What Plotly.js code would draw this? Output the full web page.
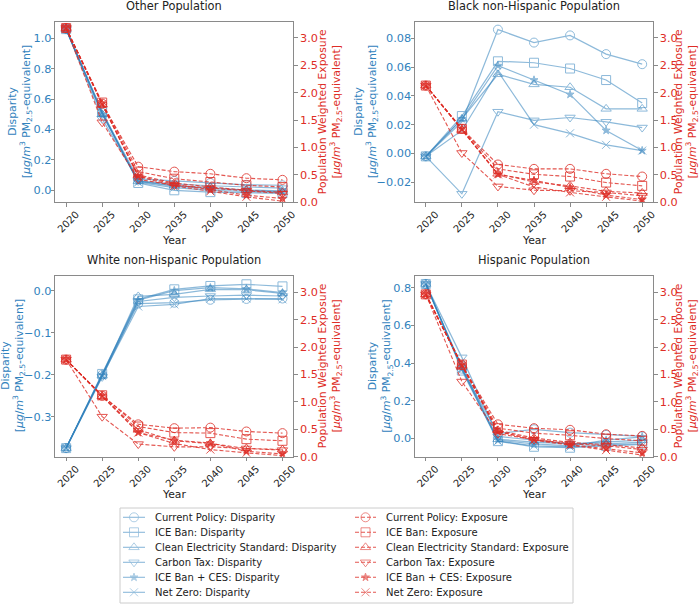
<!DOCTYPE html>
<html>
<head>
<meta charset="utf-8">
<script src="https://cdn.plot.ly/plotly-3.0.1.min.js"></script>
<style>
  html, body { margin: 0; padding: 0; background: #fff; }
  #chart { width: 700px; height: 604px; }
</style>
</head>
<body>
<div id="chart"></div>
<script>
const years = [2020, 2025, 2030, 2035, 2040, 2045, 2050]
const scenarios = ['Current Policy', 'ICE Ban', 'Clean Electricity Standard', 'Carbon Tax', 'ICE Ban + CES', 'Net Zero']
const populations = ['Other Population', 'Black non-Hispanic Population', 'White non-Hispanic Population', 'Hispanic Population']

// one row per scenario, same order as `scenarios`
const otherDisparity = [
  [1.06, 0.51, 0.075, 0.062, 0.048, 0.036, 0.033],
  [1.06, 0.52, 0.048, 0.000, -0.012, -0.018, -0.020],
  [1.06, 0.50, 0.060, 0.030, 0.018, 0.002, -0.004],
  [1.06, 0.47, 0.062, 0.042, 0.030, 0.020, 0.014],
  [1.06, 0.50, 0.058, 0.028, 0.010, -0.002, -0.010],
  [1.06, 0.51, 0.052, 0.018, 0.000, -0.008, -0.015],
]
const otherExposure = [
  [3.18, 1.80, 0.65, 0.56, 0.52, 0.44, 0.41],
  [3.18, 1.82, 0.56, 0.43, 0.37, 0.31, 0.28],
  [3.18, 1.78, 0.50, 0.35, 0.28, 0.22, 0.18],
  [3.18, 1.46, 0.42, 0.31, 0.26, 0.21, 0.16],
  [3.18, 1.80, 0.48, 0.33, 0.23, 0.13, 0.07],
  [3.18, 1.79, 0.47, 0.30, 0.20, 0.10, 0.02],
]
const blackDisparity = [
  [-0.002, 0.022, 0.086, 0.077, 0.082, 0.069, 0.062],
  [-0.002, 0.026, 0.064, 0.063, 0.059, 0.051, 0.035],
  [-0.002, 0.024, 0.055, 0.048, 0.046, 0.031, 0.031],
  [-0.002, -0.028, 0.029, 0.023, 0.025, 0.022, 0.018],
  [-0.002, 0.024, 0.061, 0.051, 0.041, 0.016, 0.002],
  [-0.002, 0.016, 0.057, 0.020, 0.014, 0.006, 0.002],
]
const blackExposure = [
  [2.13, 1.34, 0.69, 0.61, 0.61, 0.52, 0.47],
  [2.13, 1.34, 0.61, 0.51, 0.47, 0.36, 0.30],
  [2.13, 1.32, 0.52, 0.37, 0.30, 0.20, 0.17],
  [2.13, 0.90, 0.29, 0.22, 0.21, 0.18, 0.12],
  [2.13, 1.34, 0.51, 0.40, 0.27, 0.13, 0.05],
  [2.13, 1.33, 0.51, 0.28, 0.18, 0.10, 0.02],
]
const whiteDisparity = [
  [-0.375, -0.200, -0.030, -0.028, -0.021, -0.019, -0.018],
  [-0.375, -0.198, -0.020, 0.004, 0.012, 0.016, 0.011],
  [-0.375, -0.202, -0.013, -0.008, 0.004, 0.003, -0.006],
  [-0.375, -0.205, -0.025, -0.015, -0.012, -0.010, -0.012],
  [-0.375, -0.200, -0.022, 0.001, 0.008, 0.005, -0.004],
  [-0.375, -0.203, -0.037, -0.032, -0.018, -0.018, -0.020],
]
const whiteExposure = [
  [1.77, 1.11, 0.59, 0.52, 0.53, 0.46, 0.43],
  [1.77, 1.12, 0.55, 0.44, 0.43, 0.32, 0.29],
  [1.77, 1.10, 0.49, 0.29, 0.24, 0.15, 0.13],
  [1.77, 0.73, 0.23, 0.18, 0.18, 0.15, 0.12],
  [1.77, 1.11, 0.44, 0.30, 0.25, 0.10, 0.05],
  [1.77, 1.10, 0.44, 0.24, 0.13, 0.07, 0.02],
]
const hispanicDisparity = [
  [0.82, 0.37, 0.025, 0.048, 0.030, 0.018, 0.010],
  [0.82, 0.36, -0.015, -0.045, -0.050, -0.040, -0.033],
  [0.82, 0.38, -0.005, -0.020, -0.030, -0.020, -0.010],
  [0.82, 0.43, 0.010, -0.010, -0.030, -0.030, -0.020],
  [0.82, 0.37, -0.010, -0.030, -0.040, -0.010, 0.008],
  [0.82, 0.37, -0.015, -0.040, -0.045, -0.035, -0.030],
]
const hispanicExposure = [
  [2.96, 1.67, 0.59, 0.52, 0.49, 0.41, 0.38],
  [2.96, 1.68, 0.52, 0.43, 0.39, 0.33, 0.29],
  [2.96, 1.66, 0.48, 0.34, 0.26, 0.22, 0.16],
  [2.96, 1.37, 0.42, 0.31, 0.24, 0.20, 0.13],
  [2.96, 1.67, 0.46, 0.32, 0.22, 0.15, 0.07],
  [2.96, 1.66, 0.46, 0.30, 0.21, 0.12, 0.03],
]

const W = 700
const H = 604
const BLUE = '#3182bd'
const RED = '#de2d26'
const FONT = 'DejaVu Sans'
const symbols = ['circle-open', 'square-open', 'triangle-up-open', 'triangle-down-open', 'star', 'x-thin-open']
const symbolSizes = [9, 9, 9, 9, 6, 8]

const disparities = [otherDisparity, blackDisparity, whiteDisparity, hispanicDisparity]
const exposures = [otherExposure, blackExposure, whiteExposure, hispanicExposure]

// panel boxes in pixels: [left, right, top, bottom]
const boxes = [
  [55.3, 293.3, 22, 202.3],
  [415, 653, 22, 202.3],
  [55.3, 293.3, 275.7, 456.7],
  [415, 653, 275.7, 456.7],
]
// x centre (px) of the left and right axis title blocks, and y of "Year"
const leftTitleX = [20, 366, 13, 380.5]
const rightTitleX = [330, 686, 330, 686]
const yearTitleY = [240, 240, 494, 494]

const leftRanges = [[-0.079, 1.107], [-0.0339, 0.0913], [-0.3955, 0.0365], [-0.0977, 0.864]]
const leftDtick = [0.2, 0.02, 0.1, 0.2]
const leftFormat = ['.1f', '.2f', '.1f', '.1f']
const rightRanges = [[0, 3.29], [0, 3.29], [0, 3.30], [0, 3.30]]

const unitText = '[<i>μg</i>/<i>m</i><sup>3</sup> PM<sub>2.5</sub>-equivalent]'

let data = []
let layout = {
  width: W,
  height: H,
  margin: { l: 0, r: 0, t: 0, b: 0 },
  paper_bgcolor: '#fff',
  plot_bgcolor: 'rgba(0,0,0,0)',
  font: { family: FONT, size: 11.3, color: '#222' },
  showlegend: false,
  annotations: [],
  shapes: [],
}

const axisLine = { showline: true, linecolor: '#8a8a8a', linewidth: 1, ticks: 'outside', ticklen: 3.5, tickcolor: '#8a8a8a', showgrid: false, zeroline: false }
const px = v => v / W
const py = v => (H - v) / H

function note (text, x, y, size, color, extra) {
  layout.annotations.push(Object.assign({
    text: text, xref: 'paper', yref: 'paper', x: x, y: y,
    xanchor: 'center', yanchor: 'middle', showarrow: false,
    font: { family: FONT, size: size, color: color },
  }, extra || {}))
}

boxes.forEach((b, k) => {
  const n = k + 1
  const sfx = n === 1 ? '' : String(n)
  const xDomain = [px(b[0]), px(b[1])]
  const yDomain = [py(b[3]), py(b[2])]
  const midY = (b[2] + b[3]) / 2

  layout['xaxis' + sfx] = Object.assign({}, axisLine, {
    domain: xDomain,
    anchor: 'y' + sfx,
    range: [2018.5, 2051.5],
    tickvals: years,
    tickangle: -45,
    ticklabelshift: 10,
    ticklabelstandoff: -2,
    mirror: true,
    tickfont: { size: 10, color: '#222' },
  })
  layout['yaxis' + sfx] = Object.assign({}, axisLine, {
    domain: yDomain,
    anchor: 'x' + sfx,
    range: leftRanges[k],
    dtick: leftDtick[k],
    tick0: 0,
    tickformat: leftFormat[k],
    ticklabelstandoff: -3,
    tickfont: { size: 11.3, color: BLUE },
  })
  layout['yaxis' + (n + 4)] = Object.assign({}, axisLine, {
    overlaying: 'y' + sfx,
    anchor: 'x' + sfx,
    side: 'right',
    range: rightRanges[k],
    dtick: 0.5,
    tick0: 0,
    tickformat: '.1f',
    tickfont: { size: 11.3, color: RED },
  })

  note(populations[k], (xDomain[0] + xDomain[1]) / 2, py(b[2] - 16), 11.4, '#222')
  note('Year', (xDomain[0] + xDomain[1]) / 2, py(yearTitleY[k]), 10.8, '#222')
  note('Disparity<br>' + unitText, px(leftTitleX[k]), py(midY), 10.8, BLUE, { textangle: -90 })
  note('Population Weighted Exposure<br>' + unitText, px(rightTitleX[k]), py(midY), 10.8, RED, { textangle: -90 })

  scenarios.forEach((s, i) => {
    data.push({
      x: years, y: disparities[k][i],
      xaxis: 'x' + sfx, yaxis: 'y' + sfx,
      type: 'scatter', mode: 'lines+markers',
      name: s + ': Disparity',
      opacity: 0.55,
      line: { color: BLUE, width: 1.2 },
      marker: { symbol: symbols[i], size: symbolSizes[i], color: BLUE, line: { color: BLUE, width: 1 } },
    })
  })
  scenarios.forEach((s, i) => {
    data.push({
      x: years, y: exposures[k][i],
      xaxis: 'x' + sfx, yaxis: 'y' + (n + 4),
      type: 'scatter', mode: 'lines+markers',
      name: s + ': Exposure',
      opacity: 0.8,
      line: { color: RED, width: 1.1, dash: '4px,2px' },
      marker: { symbol: symbols[i], size: symbolSizes[i], color: RED, line: { color: RED, width: 1 } },
    })
  })
})

// hand-made legend laid out on a pixel-scaled helper axis
layout.xaxis5 = { domain: [0, 1], range: [0, W], visible: false, fixedrange: true }
layout.yaxis9 = { domain: [0, 1], range: [H, 0], visible: false, fixedrange: true, anchor: 'x5' }
layout.shapes.push({
  type: 'rect', xref: 'x5', yref: 'y9',
  x0: 120, x1: 573, y0: 508, y1: 603,
  line: { color: '#cccccc', width: 1 },
  fillcolor: 'rgba(255,255,255,0.9)',
  layer: 'below',
})
const legendCols = [
  { x0: 123, x1: 145, tx: 152.5, color: BLUE, dash: 'solid', opacity: 0.55, suffix: ': Disparity' },
  { x0: 355, x1: 376, tx: 384, color: RED, dash: '4px,2px', opacity: 0.8, suffix: ': Exposure' },
]
legendCols.forEach(col => {
  scenarios.forEach((s, i) => {
    const ry = 517.3 + 15 * i
    const xm = (col.x0 + col.x1) / 2
    data.push({
      x: [col.x0, xm, col.x1], y: [ry, ry, ry],
      xaxis: 'x5', yaxis: 'y9',
      type: 'scatter', mode: 'lines+markers',
      hoverinfo: 'skip',
      opacity: col.opacity,
      line: { color: col.color, width: 1.1, dash: col.dash },
      marker: { symbol: symbols[i], size: [0, symbolSizes[i], 0], color: col.color, line: { color: col.color, width: 1 } },
    })
    layout.annotations.push({
      text: s + col.suffix,
      xref: 'x5', yref: 'y9',
      x: col.tx, y: ry,
      xanchor: 'left', yanchor: 'middle',
      showarrow: false,
      font: { family: FONT, size: 10, color: '#222' },
    })
  })
})

Plotly.newPlot('chart', data, layout, { staticPlot: true })
</script>
</body>
</html>
